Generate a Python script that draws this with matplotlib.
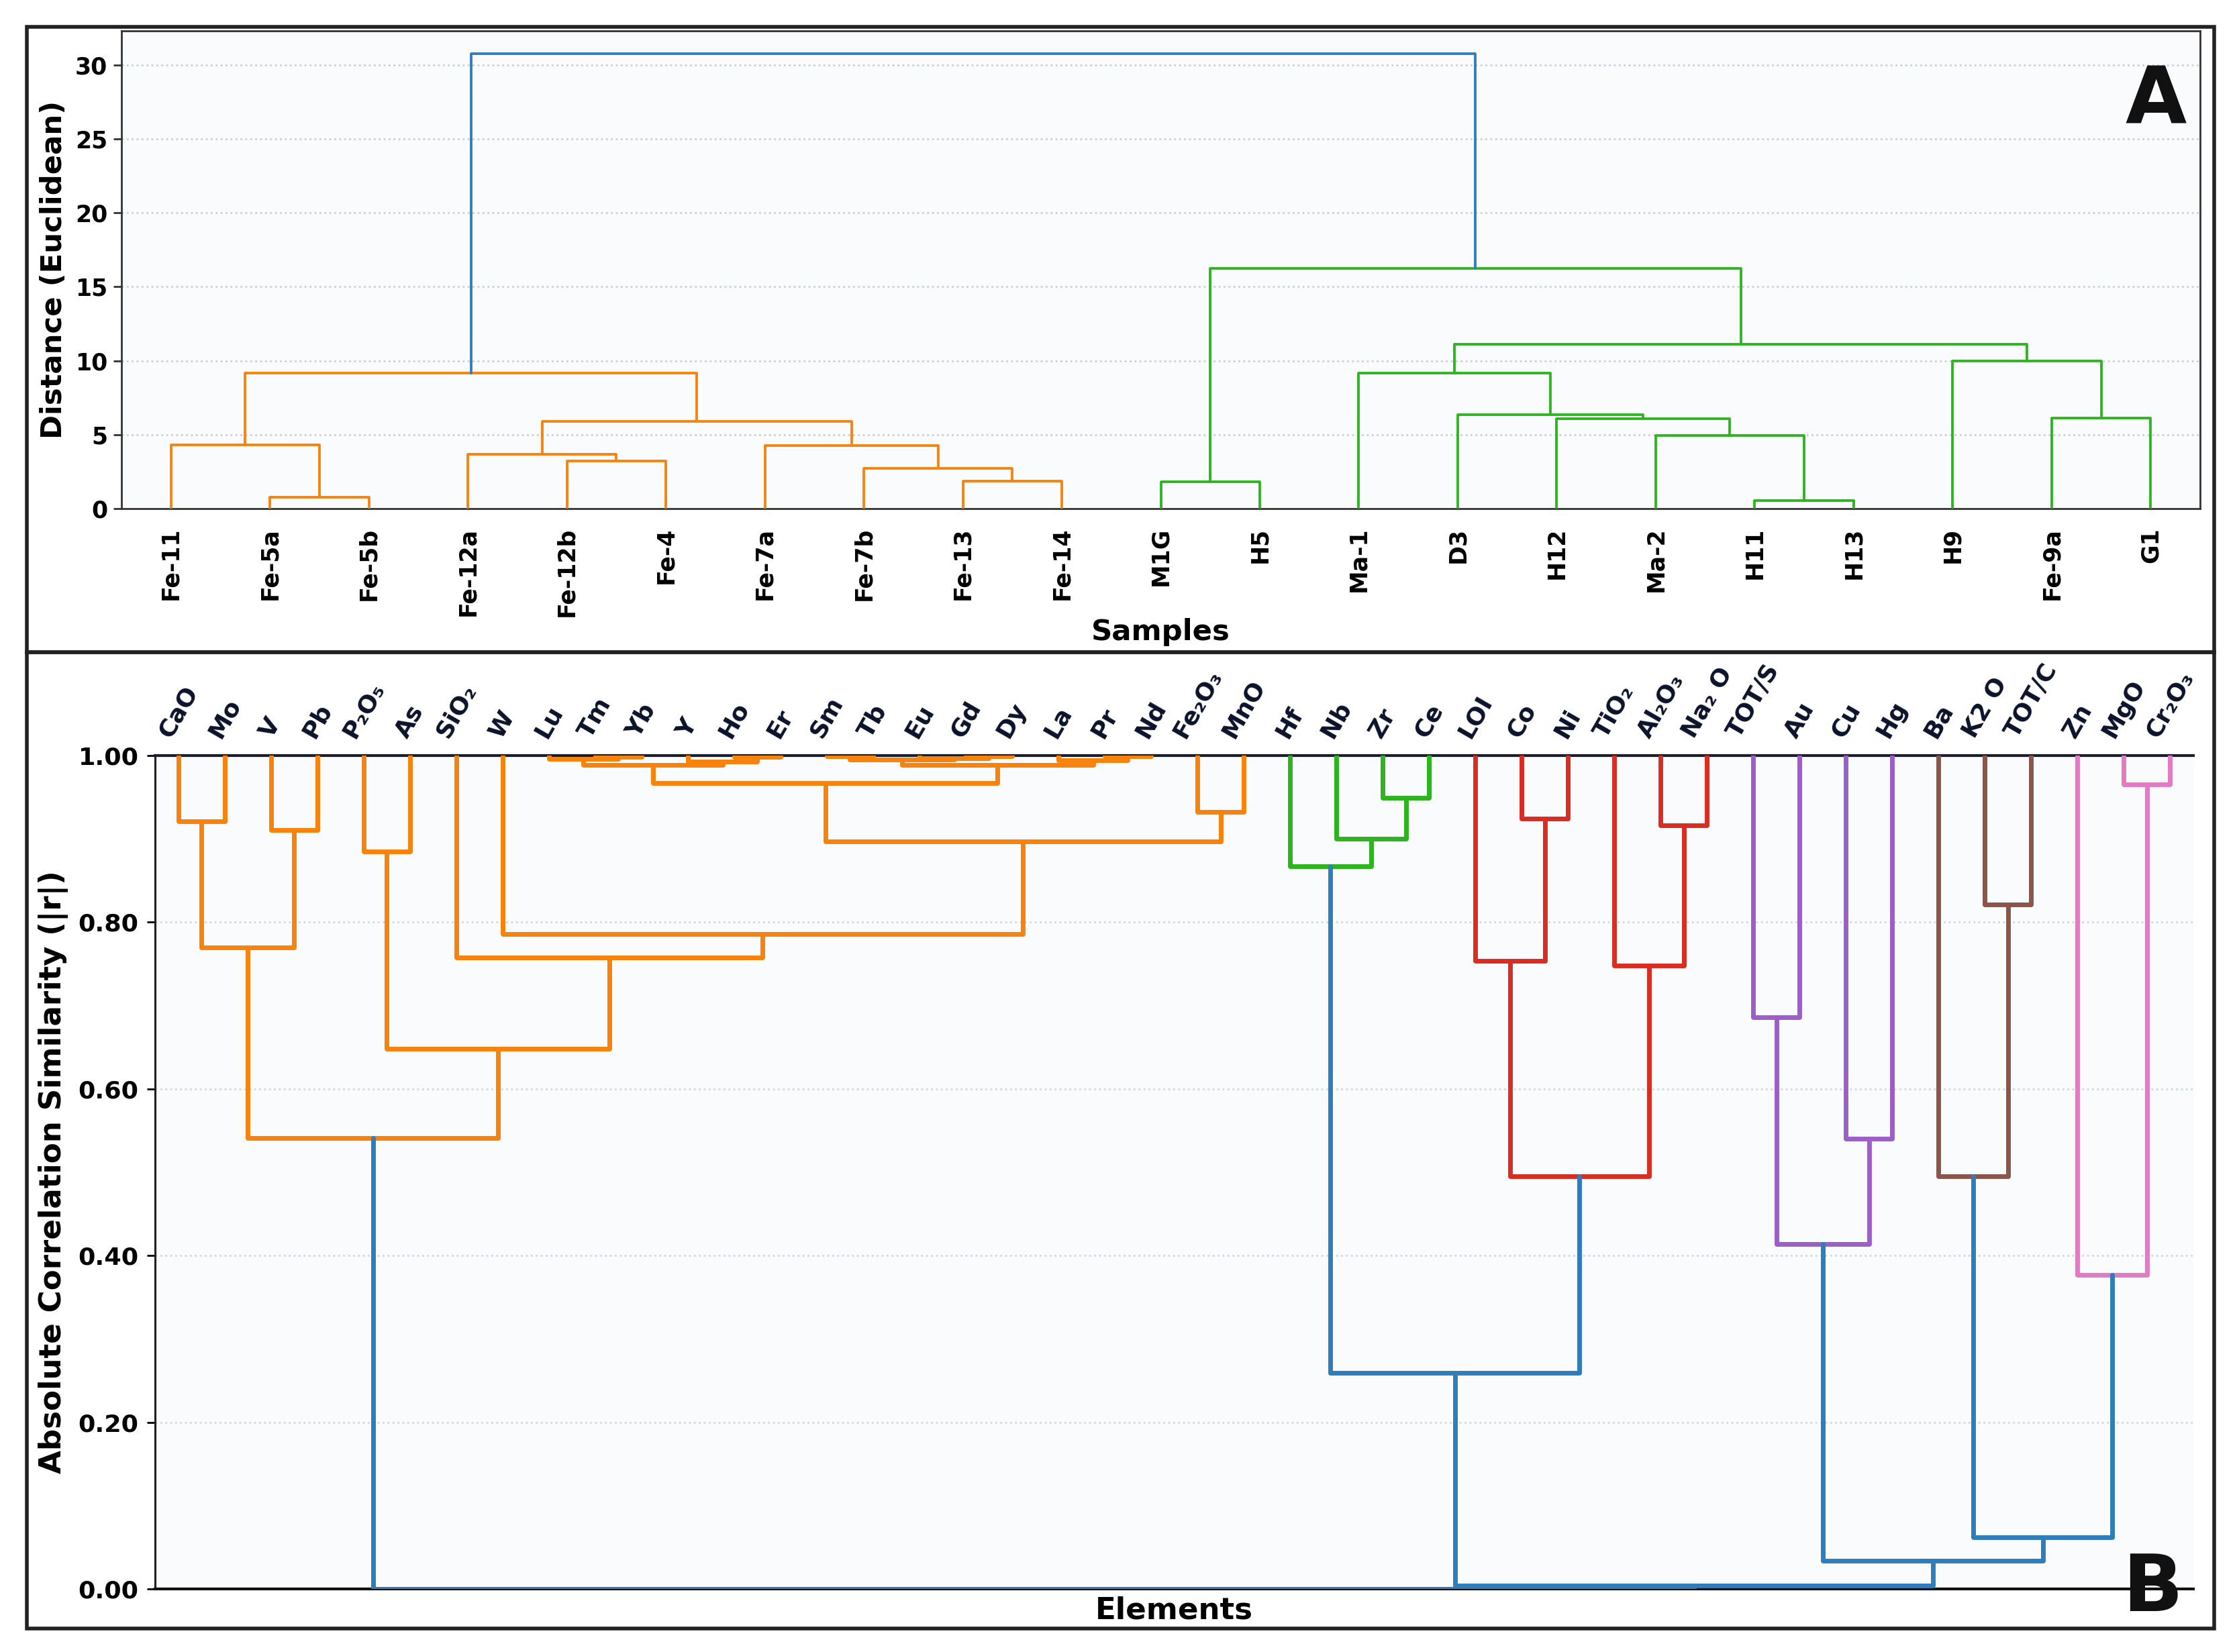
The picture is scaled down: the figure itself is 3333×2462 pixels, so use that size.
import matplotlib
matplotlib.use("Agg")
import matplotlib.pyplot as plt
from matplotlib.patches import Rectangle
from matplotlib.ticker import FormatStrFormatter

plt.rcParams['font.family'] = ['DejaVu Sans']
plt.rcParams['font.weight'] = 'bold'

# ---------------- Panel A : sample dendrogram (Euclidean distance) ----------------
sample_labels = ['Fe-11', 'Fe-5a', 'Fe-5b', 'Fe-12a', 'Fe-12b', 'Fe-4', 'Fe-7a', 'Fe-7b',
                 'Fe-13', 'Fe-14', 'M1G', 'H5', 'Ma-1', 'D3', 'H12', 'Ma-2', 'H11', 'H13',
                 'H9', 'Fe-9a', 'G1']
# linkage rows (new cluster ids start at len(sample_labels))
sample_link_left = [1, 0, 4, 3, 8, 7, 6, 24, 22, 10, 16, 15, 14, 13, 12, 19, 18, 35, 30, 29]
sample_link_right = [2, 21, 5, 23, 9, 25, 26, 27, 28, 11, 17, 31, 32, 33, 34, 20, 36, 37, 38, 39]
sample_link_height = [0.79, 4.31, 3.23, 3.68, 1.87, 2.72, 4.25, 5.89, 9.18, 1.81, 0.56, 4.93,
                      6.06, 6.35, 9.15, 6.12, 10.00, 11.11, 16.22, 30.76]
sample_link_group = ['orange'] * 9 + ['green'] * 10 + ['blue']
distance_ticks = [0, 5, 10, 15, 20, 25, 30]

# ---------------- Panel B : element dendrogram (|r| similarity) ----------------
element_labels = ['CaO', 'Mo', 'V', 'Pb', 'P₂O₅', 'As', 'SiO₂', 'W', 'Lu', 'Tm', 'Yb', 'Y',
                  'Ho', 'Er', 'Sm', 'Tb', 'Eu', 'Gd', 'Dy', 'La', 'Pr', 'Nd', 'Fe₂O₃', 'MnO',
                  'Hf', 'Nb', 'Zr', 'Ce', 'LOI', 'Co', 'Ni', 'TiO₂', 'Al₂O₃', 'Na₂ O', 'TOT/S',
                  'Au', 'Cu', 'Hg', 'Ba', 'K2 O', 'TOT/C', 'Zn', 'MgO', 'Cr₂O₃']
element_link_left = [0, 2, 44, 4, 9, 8, 12, 11, 49, 14, 17, 16, 53, 20, 19, 56, 52, 22, 60, 7,
                     6, 47, 46,
                     26, 25, 24,
                     29, 28, 32, 31, 71,
                     69,
                     34, 36, 76,
                     39, 38,
                     42, 41,
                     80, 78, 75, 66]
element_link_right = [1, 3, 45, 5, 10, 48, 13, 50, 51, 15, 18, 54, 55, 21, 57, 58, 59, 23, 61,
                      62, 63, 64, 65,
                      27, 67, 68,
                      30, 70, 33, 72, 73,
                      74,
                      35, 37, 77,
                      40, 79,
                      43, 81,
                      82, 83, 84, 85]
element_link_similarity = [0.921, 0.911, 0.770, 0.885, 0.998, 0.996, 0.998, 0.993, 0.989, 0.999,
                           0.999, 0.997, 0.995, 0.999, 0.994, 0.989, 0.967, 0.932, 0.897,
                           0.786, 0.758, 0.648, 0.541,
                           0.949, 0.900, 0.867,
                           0.924, 0.754, 0.916, 0.748, 0.495,
                           0.259,
                           0.686, 0.540, 0.414,
                           0.821, 0.495,
                           0.965, 0.377,
                           0.062, 0.034, 0.004, 0.000]
element_link_group = (['orange'] * 23 + ['green'] * 3 + ['red'] * 5 + ['blue'] +
                      ['purple'] * 3 + ['brown'] * 2 + ['pink'] * 2 + ['blue'] * 4)
similarity_ticks = [0.0, 0.2, 0.4, 0.6, 0.8, 1.0]

palette = {'orange': '#f7820c', 'green': '#2db41f', 'blue': '#2f7dbb', 'red': '#d92d23',
           'purple': '#9c5fc8', 'brown': '#8c5549', 'pink': '#e07cc4'}


def draw_dendrogram(ax, n, left, right, heights, groups, leaf_height, lw):
    xs = {i: 5 + 10 * i for i in range(n)}
    hs = {i: leaf_height for i in range(n)}
    for k, (a, b, h, g) in enumerate(zip(left, right, heights, groups)):
        xa, xb = xs[a], xs[b]
        ax.plot([xa, xa, xb, xb], [hs[a], h, h, hs[b]], color=palette[g], lw=lw,
                solid_joinstyle='round', solid_capstyle='round', zorder=3)
        xs[n + k] = (xa + xb) / 2.0
        hs[n + k] = h
    return [5 + 10 * i for i in range(n)]


W, H, DPI = 3333, 2462, 250
fig = plt.figure(figsize=(W / DPI, H / DPI), dpi=DPI, facecolor='white')

def fx(px):
    return px / W

def fy(py):
    return 1 - py / H

bg = '#fafbfd'

# ---------------- Panel A ----------------
axA = fig.add_axes([fx(181), fy(758), fx(3278) - fx(181), fy(46) - fy(758)])
axA.set_facecolor(bg)
nA = len(sample_labels)
posA = draw_dendrogram(axA, nA, sample_link_left, sample_link_right, sample_link_height,
                       sample_link_group, 0.0, 1.1)
axA.set_xlim(0, 10 * nA)
axA.set_ylim(0, max(sample_link_height) * 1.05)
axA.set_xticks(posA)
axA.set_xticklabels(sample_labels, rotation=90, fontsize=10, fontweight='bold')
axA.set_yticks(distance_ticks)
axA.set_yticklabels([str(t) for t in distance_ticks], fontsize=10, fontweight='bold')
axA.tick_params(axis='x', length=0, pad=8)
axA.tick_params(axis='y', length=3.5, width=0.8, pad=2.5, color='#333333')
axA.yaxis.grid(True, linestyle=':', color='#c9d0da', lw=0.8)
axA.set_axisbelow(True)
for s in axA.spines.values():
    s.set_color('#333333')
    s.set_linewidth(0.8)

fig.text(fx(80), fy(402), 'Distance (Euclidean)', rotation=90, ha='center', va='center',
         fontsize=12.5, fontweight='bold')
fig.text(fx(1729.5), fy(942), 'Samples', ha='center', va='center', fontsize=12.5,
         fontweight='bold')
fig.text(fx(3258), fy(94), 'A', ha='right', va='top', fontsize=34, fontweight='bold',
         color='#111111')

# ---------------- Panel B ----------------
axB = fig.add_axes([fx(231), fy(2368), fx(3268) - fx(231), fy(1126) - fy(2368)])
axB.set_facecolor(bg)
nB = len(element_labels)
posB = draw_dendrogram(axB, nB, element_link_left, element_link_right,
                       element_link_similarity, element_link_group, 1.0, 2.0)
axB.set_xlim(0, 10 * nB)
axB.set_ylim(0, 1.0)
axB.xaxis.tick_top()
axB.set_xticks(posB)
axB.set_xticklabels(element_labels, rotation=60, ha='center', fontsize=10.5,
                    fontweight='bold', color='#0b132b')
axB.tick_params(axis='x', top=True, bottom=False, length=0, pad=6)
axB.set_yticks(similarity_ticks)
axB.yaxis.set_major_formatter(FormatStrFormatter('%.2f'))
for lab in axB.get_yticklabels():
    lab.set_fontsize(10.5)
    lab.set_fontweight('bold')
axB.tick_params(axis='y', length=3.5, width=0.8, pad=3.5, labelsize=10.5)
axB.yaxis.grid(True, linestyle=':', color='#cdd8e4', lw=0.8)
axB.set_axisbelow(True)
axB.spines['right'].set_visible(False)
axB.spines['top'].set_color('#1a1d2e')
axB.spines['top'].set_linewidth(1.2)
axB.spines['bottom'].set_color('#111111')
axB.spines['bottom'].set_linewidth(1.2)
axB.spines['left'].set_color('#222222')
axB.spines['left'].set_linewidth(0.9)

fig.text(fx(80), fy(1747), 'Absolute Correlation Similarity (|r|)', rotation=90,
         ha='center', va='center', fontsize=13, fontweight='bold')
fig.text(fx(1749.5), fy(2400), 'Elements', ha='center', va='center', fontsize=13,
         fontweight='bold')
fig.text(fx(3252), fy(2401), 'B', ha='right', va='baseline', fontsize=34,
         fontweight='bold', color='#111111')

# ---------------- panel frames ----------------
for (y_top, y_bot) in [(40, 972), (972, 2427)]:
    fig.add_artist(Rectangle((fx(40), fy(y_bot)), fx(3299) - fx(40), fy(y_top) - fy(y_bot),
                             transform=fig.transFigure, fill=False, ec='#222222', lw=1.6,
                             zorder=10))

fig.savefig('out.png', dpi=DPI, facecolor='white')
